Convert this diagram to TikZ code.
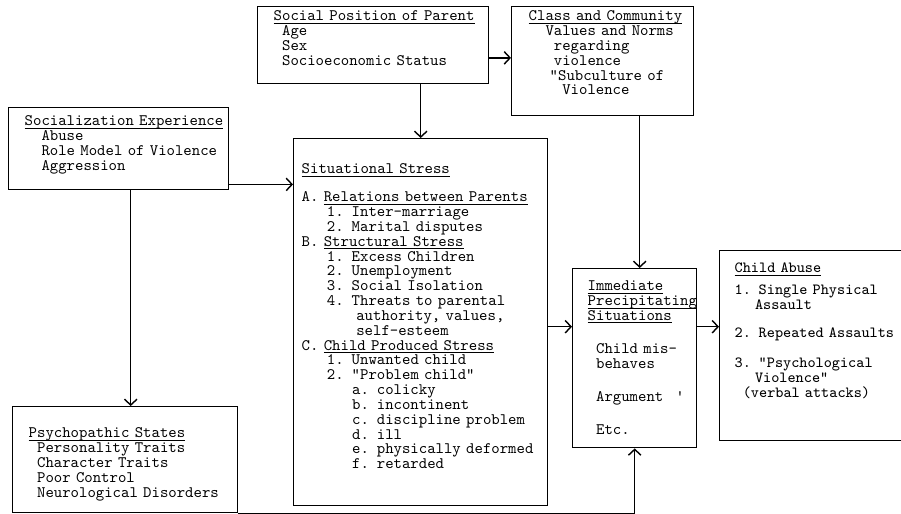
\documentclass[tikz,border=0pt]{standalone}
\usepackage{tikz}
\usetikzlibrary{arrows.meta}

\newcommand{\hd}[1]{\underline{\smash{#1}}}
\newcommand{\ind}[1]{\hspace*{#1\dimexpr0.525em\relax}}

\begin{document}
\begin{tikzpicture}[x=0.6pt,y=-0.6pt,
    box/.style={draw,line width=0.85pt,anchor=north west,align=left,inner sep=0pt,font=\ttfamily\fontsize{9.6}{8.9}\selectfont},
    pad/.style={execute at begin node={\setlength{\leftskip}{#1}}},
    arr/.style={-{Straight Barb[length=3.5pt,width=7.5pt]},line width=0.85pt}]
  \useasboundingbox (0,0) rectangle (901,514);
  \clip (0,0) rectangle (901,514);
  \node[box,pad=9.6pt,text width=138.6pt,text height=8.4pt,text depth=37.8pt] (soc) at (257,6)
    {\hd{Social Position of Parent}\\ \ind{1}Age\\ \ind{1}Sex\\ \ind{1}Socioeconomic Status};
  \node[box,pad=10.2pt,text width=109.2pt,text height=8.4pt,text depth=57pt] (cls) at (511,6)
    {\hd{Class and Community}\\ \ind{2}Values and Norms\\ \ind{3}regarding\\ \ind{3}violence\\ \ind{2.5}"Subculture of\\ \ind{4}Violence};
  \node[box,pad=9.6pt,text width=132pt,text height=10.8pt,text depth=38.4pt] (sox) at (8,107)
    {\hd{Socialization Experience}\\ \ind{2}Abuse\\ \ind{2}Role Model of Violence\\ \ind{2}Aggression};
  \node[box,pad=4.8pt,text width=152.4pt,text height=21pt,text depth=199.2pt] (sit) at (293,138)
    {\hd{Situational Stress}\\[7.9pt]
     A. \hd{Relations between Parents}\\
     \ind{3}1. Inter-marriage\\
     \ind{3}2. Marital disputes\\
     B. \hd{Structural Stress}\\
     \ind{3}1. Excess Children\\
     \ind{3}2. Unemployment\\
     \ind{3}3. Social Isolation\\
     \ind{3}4. Threats to parental\\
     \ind{6.5}authority, values,\\
     \ind{6.5}self-esteem\\
     C. \hd{Child Produced Stress}\\
     \ind{3}1. Unwanted child\\
     \ind{3}2. "Problem child"\\
     \ind{6}a. colicky\\
     \ind{6}b. incontinent\\
     \ind{6}c. discipline problem\\
     \ind{6}d. ill\\
     \ind{6}e. physically deformed\\
     \ind{6}f. retarded};
  \node[box,pad=9.6pt,text width=135pt,text height=18.6pt,text depth=45pt] (psy) at (12,406)
    {\hd{Psychopathic States}\\ \ind{1}Personality Traits\\ \ind{1}Character Traits\\ \ind{1}Poor Control\\ \ind{1}Neurological Disorders};
  \node[box,pad=9pt,text width=74.4pt,text height=13.2pt,text depth=94.2pt] (imm) at (572,268)
    {\hd{Immediate}\\ \hd{Precipitating}\\ \hd{Situations}\\[11pt]
     \ind{1}Child mis-\\ \ind{1}behaves\\[11pt]
     \ind{1}Argument\ind{1.5}\textquotesingle\\[11pt]
     \ind{1}Etc.};
  \node[box,pad=9pt,text width=120pt,text height=13.2pt,text depth=100.8pt,font=\ttfamily\fontsize{9.3}{8.9}\selectfont] (abu) at (719,250)
    {\hd{Child Abuse}\\[4.3pt]
     1. Single Physical\\ \ind{2.5}Assault\\[8pt]
     2. Repeated Assaults\\[9pt]
     3. "Psychological\\ \ind{2.5}Violence"\\ \ind{1}(verbal attacks)};
  % connectors
  \coordinate (sxr) at ([yshift=3.6pt]sox.south east);
  \coordinate (sxb) at ([xshift=7.2pt]sox.south);
  \coordinate (lv) at ([yshift=18.9pt]imm.west);
  \draw[arr] (soc.south -| sit.north) -- (sit.north);
  \draw[arr] ([yshift=2pt]soc.east |- cls.west) -- ([yshift=2pt]cls.west);
  \draw[arr] (sxr) -- (sxr -| sit.west);
  \draw[arr] (sxb) -- (sxb |- psy.north);
  \draw[arr] ([xshift=3pt]cls.south -| imm.north) -- ([xshift=3pt]imm.north);
  \draw[arr] (lv -| sit.east) -- (lv);
  \draw[arr] (lv -| imm.east) -- (lv -| abu.west);
  \draw[arr] (psy.south east) -| (imm.south);
\end{tikzpicture}
\end{document}
